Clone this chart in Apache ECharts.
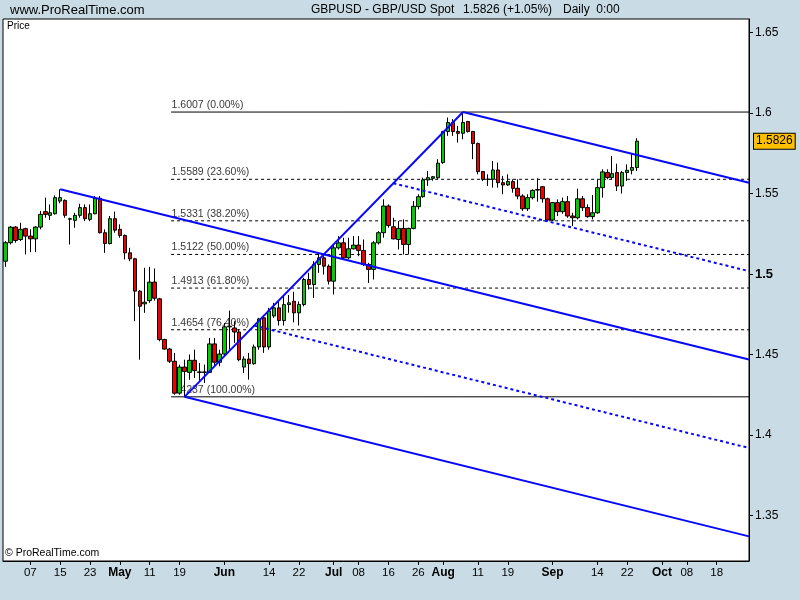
<!DOCTYPE html>
<html><head><meta charset="utf-8">
<script src="https://cdn.jsdelivr.net/npm/echarts@6/dist/echarts.min.js"></script>
<style>html,body{margin:0;padding:0;background:#C9DCE6;}#c{width:800px;height:600px;}</style>
</head><body><div id="c"></div>
<script>
// ---- data (daily candles, first candle = 2010-03-31) ----
const opens = [1.5080,1.5195,1.5292,1.5215,1.5282,1.5236,1.5219,1.5292,1.5388,1.5365,1.5375,1.5454,1.5458,1.5344,1.5334,1.5365,1.5413,1.5340,1.5375,1.5471,1.5257,1.5190,1.5344,1.5278,1.5240,1.5132,1.5095,1.4894,1.4815,1.4835,1.4950,1.4846,1.4593,1.4534,1.4458,1.4260,1.4422,1.4389,1.4464,1.4392,1.4389,1.4389,1.4566,1.4452,1.4503,1.4672,1.4665,1.4640,1.4422,1.4472,1.4443,1.4547,1.4728,1.4547,1.4740,1.4790,1.4711,1.4810,1.4831,1.4759,1.4811,1.4966,1.4935,1.5060,1.5101,1.5049,1.4956,1.5163,1.5194,1.5101,1.5157,1.5180,1.5147,1.5060,1.5029,1.5194,1.5257,1.5423,1.5294,1.5215,1.5284,1.5184,1.5284,1.5419,1.5481,1.5585,1.5595,1.5599,1.5693,1.5886,1.5942,1.5886,1.5875,1.5948,1.5886,1.5811,1.5637,1.5590,1.5589,1.5647,1.5568,1.5554,1.5575,1.5533,1.5485,1.5406,1.5475,1.5522,1.5543,1.5468,1.5336,1.5444,1.5388,1.5450,1.5361,1.5350,1.5468,1.5413,1.5357,1.5381,1.5537,1.5631,1.5600,1.5631,1.5547,1.5631,1.5645,1.5662];
const highs = [1.5205,1.5298,1.5298,1.5319,1.5288,1.5278,1.5298,1.5392,1.5475,1.5433,1.5489,1.5527,1.5464,1.5350,1.5381,1.5437,1.5433,1.5433,1.5485,1.5485,1.5278,1.5361,1.5388,1.5309,1.5246,1.5163,1.5101,1.4900,1.5039,1.5045,1.5035,1.4852,1.4598,1.4541,1.4510,1.4437,1.4468,1.4500,1.4530,1.4447,1.4437,1.4603,1.4603,1.4530,1.4696,1.4773,1.4707,1.4655,1.4489,1.4510,1.4562,1.4728,1.4738,1.4790,1.4821,1.4830,1.4870,1.4870,1.4890,1.4830,1.4977,1.5008,1.5080,1.5132,1.5111,1.5060,1.5184,1.5236,1.5226,1.5226,1.5236,1.5236,1.5215,1.5070,1.5205,1.5267,1.5465,1.5433,1.5350,1.5329,1.5340,1.5288,1.5454,1.5496,1.5599,1.5641,1.5610,1.5714,1.5890,1.5973,1.5963,1.5921,1.6007,1.5952,1.5890,1.5817,1.5641,1.5620,1.5703,1.5693,1.5610,1.5620,1.5589,1.5589,1.5496,1.5496,1.5527,1.5595,1.5547,1.5475,1.5448,1.5464,1.5475,1.5485,1.5381,1.5531,1.5485,1.5433,1.5491,1.5589,1.5651,1.5651,1.5734,1.5686,1.5641,1.5682,1.5745,1.5844];
const lows = [1.5045,1.5184,1.5195,1.5205,1.5122,1.5136,1.5136,1.5278,1.5350,1.5336,1.5370,1.5440,1.5350,1.5184,1.5288,1.5350,1.5329,1.5329,1.5371,1.5253,1.5132,1.5184,1.5257,1.5226,1.5091,1.5080,1.4707,1.4468,1.4759,1.4821,1.4835,1.4582,1.4530,1.4447,1.4250,1.4250,1.4237,1.4343,1.4354,1.4333,1.4323,1.4385,1.4427,1.4427,1.4493,1.4530,1.4572,1.4458,1.4385,1.4344,1.4437,1.4530,1.4510,1.4530,1.4728,1.4680,1.4680,1.4760,1.4700,1.4680,1.4800,1.4904,1.4852,1.5008,1.4997,1.4935,1.4873,1.5153,1.5091,1.5091,1.5153,1.5111,1.5049,1.4945,1.4966,1.5184,1.5226,1.5288,1.5215,1.5153,1.5122,1.5122,1.5278,1.5402,1.5475,1.5548,1.5580,1.5589,1.5685,1.5859,1.5859,1.5817,1.5838,1.5880,1.5714,1.5620,1.5578,1.5548,1.5537,1.5537,1.5496,1.5548,1.5506,1.5465,1.5392,1.5392,1.5464,1.5450,1.5444,1.5329,1.5329,1.5361,1.5375,1.5350,1.5298,1.5340,1.5392,1.5350,1.5340,1.5375,1.5475,1.5589,1.5589,1.5516,1.5500,1.5579,1.5620,1.5641];
const closes = [1.5195,1.5292,1.5209,1.5278,1.5236,1.5219,1.5292,1.5371,1.5371,1.5381,1.5475,1.5475,1.5365,1.5341,1.5365,1.5413,1.5344,1.5375,1.5471,1.5257,1.5190,1.5344,1.5273,1.5240,1.5132,1.5095,1.4894,1.4800,1.4825,1.4950,1.4850,1.4593,1.4534,1.4458,1.4260,1.4422,1.4395,1.4464,1.4400,1.4389,1.4392,1.4566,1.4452,1.4503,1.4672,1.4676,1.4640,1.4468,1.4472,1.4443,1.4547,1.4721,1.4547,1.4770,1.4790,1.4711,1.4810,1.4821,1.4759,1.4811,1.4966,1.4935,1.5060,1.5101,1.5049,1.4956,1.5163,1.5194,1.5101,1.5157,1.5180,1.5147,1.5060,1.5029,1.5194,1.5257,1.5423,1.5302,1.5219,1.5284,1.5184,1.5284,1.5421,1.5481,1.5585,1.5599,1.5605,1.5689,1.5886,1.5942,1.5886,1.5875,1.5942,1.5886,1.5811,1.5637,1.5589,1.5589,1.5647,1.5568,1.5554,1.5575,1.5533,1.5485,1.5406,1.5475,1.5520,1.5525,1.5468,1.5336,1.5444,1.5388,1.5450,1.5361,1.5350,1.5468,1.5413,1.5357,1.5381,1.5537,1.5635,1.5600,1.5624,1.5547,1.5631,1.5645,1.5662,1.5826];

// x-axis tick labels
const tickDates = ['2010-04-07','2010-04-15','2010-04-23','2010-05-03','2010-05-11','2010-05-19','2010-06-01','2010-06-14','2010-06-22','2010-07-01','2010-07-08','2010-07-16','2010-07-26','2010-08-02','2010-08-11','2010-08-19','2010-09-01','2010-09-14','2010-09-22','2010-10-01','2010-10-08','2010-10-18'];
const tickTexts = ['07','15','23','May','11','19','Jun','14','22','Jul','08','16','26','Aug','11','19','Sep','14','22','Oct','08','18'];

// Fibonacci retracement levels
const fibLevels = [1.6007,1.5589,1.5331,1.5122,1.4913,1.4654,1.4237];
const fibPct = ['0.00','23.60','38.20','50.00','61.80','76.40','100.00'];

// Andrews pitchfork pivots (candle index, price)
const pivotIdx = [11, 36, 92];
const pivotPrice = [1.5527, 1.4237, 1.6007];

// ---- build ----
const SLOTS = 150;
const dates = [];
{ let d = new Date(Date.UTC(2010,2,31));
  while (dates.length < SLOTS) { const w = d.getUTCDay(); if (w !== 0 && w !== 6) dates.push(d.toISOString().slice(0,10)); d.setUTCDate(d.getUTCDate()+1); } }
const tickMap = {}; tickDates.forEach((t,i)=>tickMap[t]=tickTexts[i]);
const isMonth = t => /^[A-Z]/.test(t);
const candles = opens.map((o,i)=>[o, closes[i], lows[i], highs[i]]);
const lastClose = closes[closes.length-1];

const RIGHT_K = SLOTS - 0.5;
const FIB_START_K = 33.3;
const [p1x,p2x,p3x] = pivotIdx, [p1y,p2y,p3y] = pivotPrice;
const mx = (p2x+p3x)/2, my = (p2y+p3y)/2;
const slope = (my-p1y)/(mx-p1x);
const ext = (x,y) => [[x,y],[RIGHT_K, y + slope*(RIGHT_K-x)]];
const blue = '#0808F8';
const sans = "'Liberation Sans',Arial,sans-serif";

const series = [];
fibLevels.forEach((lv,i)=>{
  const solid = (i===0 || i===fibLevels.length-1);
  series.push({type:'line', xAxisIndex:1, yAxisIndex:0, z:2, symbol:'none', silent:true, animation:false,
    data:[[FIB_START_K, lv],[RIGHT_K, lv]],
    lineStyle:{color:'#000', width:1, type: solid ? 'solid' : [3,3]}});
});
series.push({type:'scatter', xAxisIndex:1, yAxisIndex:0, z:3, symbolSize:1, silent:true, animation:false,
  itemStyle:{color:'rgba(0,0,0,0)'},
  data: fibLevels.map((lv,i)=>[FIB_START_K, lv, lv.toFixed(4)+' ('+fibPct[i]+'%)']),
  label:{show:true, position:'right', distance:0, offset:[0,-7], formatter:p=>p.value[2], color:'#000', fontSize:10.5, fontFamily:sans}});
series.push({type:'candlestick', xAxisIndex:0, yAxisIndex:0, z:5, barWidth:4, animation:false,
  data: candles,
  itemStyle:{color:'#00CC00', color0:'#EE0000', borderColor:'#000', borderColor0:'#000', borderWidth:1},
  markLine:{symbol:'none', silent:true, animation:false, precision:4,
    lineStyle:{width:1, color:'rgba(0,0,0,0)', type:'solid'},
    data:[{yAxis: lastClose}],
    label:{show:true, position:'end', distance:5, formatter:()=>lastClose.toFixed(4),
      backgroundColor:'#FFC000', borderColor:'#000', borderWidth:1, padding:[2,2,1,2], color:'#000', fontSize:12, fontFamily:sans}}});
const blueLine = (data, dashed) => ({type:'line', xAxisIndex:1, yAxisIndex:0, z:6, symbol:'none', silent:true, animation:false,
  data, lineStyle:{color:blue, width:2, type: dashed ? [3,3] : 'solid'}});
series.push(blueLine(ext(p1x,p1y)));
series.push(blueLine(ext(p2x,p2y)));
series.push(blueLine(ext(p3x,p3y)));
series.push(blueLine([[p2x,p2y],[p3x,p3y]]));
series.push(blueLine(ext((mx+p3x)/2,(my+p3y)/2), true));
series.push(blueLine(ext((mx+p2x)/2,(my+p2y)/2), true));

const tickFilter = (i, v) => tickMap[v] !== undefined;
const hdr = {fontSize:12, fontWeight:'normal', fontFamily:sans, color:'#000'};
const chart = echarts.init(document.getElementById('c'), null, {renderer:'canvas'});
chart.setOption({
  backgroundColor:'#C9DCE6',
  animation:false,
  title:[
    {text:'www.ProRealTime.com', left:10, top:4, padding:0, textStyle:Object.assign({}, hdr, {fontSize:13})},
    {text:'GBPUSD - GBP/USD Spot', left:311, top:4, padding:0, textStyle:hdr},
    {text:'1.5826 (+1.05%)', left:463, top:4, padding:0, textStyle:hdr},
    {text:'Daily  0:00', left:563, top:4, padding:0, textStyle:hdr},
    {text:'Price', left:7, top:21, padding:0, textStyle:{fontSize:10, fontWeight:'normal', fontFamily:sans, color:'#000'}},
    {text:'© ProRealTime.com', left:5, top:548, padding:0, textStyle:{fontSize:10.5, fontWeight:'normal', fontFamily:sans, color:'#000'}}
  ],
  grid:{left:3, right:51, top:19, bottom:39, show:true, backgroundColor:'#fff', borderColor:'#000', borderWidth:1},
  xAxis:[
    {type:'category', data:dates, boundaryGap:true,
      axisLine:{show:true, onZero:false, lineStyle:{color:'#000'}},
      axisTick:{show:true, interval:tickFilter, alignWithLabel:true, length:4, lineStyle:{color:'#000'}},
      axisLabel:{interval:tickFilter, margin:6, color:'#000', fontSize:11.5, fontFamily:sans,
        formatter:v=>{const t=tickMap[v]; if(t===undefined) return ''; return isMonth(t)?'{m|'+t+'}':t;},
        rich:{m:{fontWeight:'bold', fontSize:12, fontFamily:sans, color:'#000'}}},
      splitLine:{show:false}},
    {type:'value', min:-0.5, max:RIGHT_K, show:false, axisLine:{onZero:false}}
  ],
  yAxis:{type:'value', position:'right', min:1.32167, max:1.65853, splitNumber:6, scale:true,
    splitLine:{show:false},
    axisLine:{show:true, onZero:false, lineStyle:{color:'#000'}},
    axisTick:{show:true, length:4, lineStyle:{color:'#000'}},
    axisLabel:{showMinLabel:false, showMaxLabel:false, margin:6, color:'#000', fontSize:12, fontFamily:sans,
      formatter:v=>{const s=String(+v.toFixed(2)); return Math.abs(v-1.5)<1e-9?'{b|'+s+'}':s;},
      rich:{b:{fontWeight:'bold', fontSize:13, fontFamily:sans, color:'#000'}}}},
  series
});
</script></body></html>
